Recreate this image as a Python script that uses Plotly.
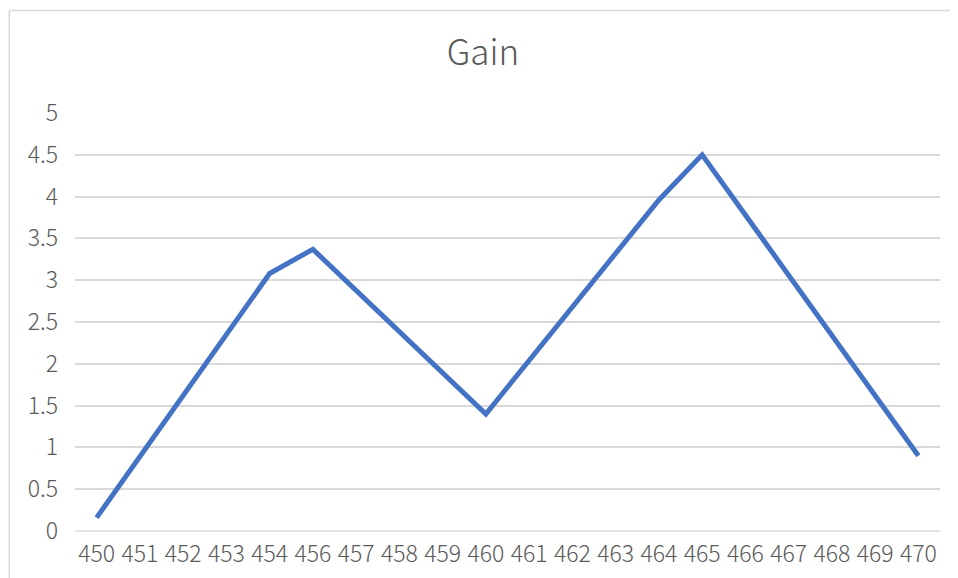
import plotly.graph_objects as go

categories = ["450", "451", "452", "453", "454", "456", "457", "458", "459", "460",
              "461", "462", "463", "464", "465", "466", "467", "468", "469", "470"]
gain = [0.16, 0.89, 1.62, 2.35, 3.08, 3.37, 2.88, 2.39, 1.90, 1.40,
        2.04, 2.68, 3.32, 3.96, 4.50, 3.78, 3.06, 2.34, 1.62, 0.90]
y_ticks = [0, 0.5, 1, 1.5, 2, 2.5, 3, 3.5, 4, 4.5, 5]
y_tick_text = ["0", "0.5", "1", "1.5", "2", "2.5", "3", "3.5", "4", "4.5", "5"]

FONT = "Noto Sans CJK SC, Noto Sans, sans-serif"
GREY = "#595959"
GRID = "#D9D9D9"

fig = go.Figure()
fig.add_trace(go.Scatter(
    x=categories, y=gain, mode="lines",
    line=dict(color="#4472C4", width=5),
    showlegend=False,
))

fig.update_layout(
    width=950, height=570,
    margin=dict(l=67, r=18, t=105, b=47, autoexpand=False),
    paper_bgcolor="white", plot_bgcolor="white",
    title=dict(text="Gain", x=0.5, xanchor="center", y=0.921, yanchor="middle",
               font=dict(family=FONT, size=35, color=GREY, weight=300)),
    xaxis=dict(type="category", showgrid=False, zeroline=False, showline=False,
               ticks="", ticklabelstandoff=7, automargin=False,
               tickfont=dict(family=FONT, size=23, color=GREY, weight=300),
               range=[-0.5, len(categories) - 0.5]),
    yaxis=dict(range=[0, 5], tickvals=y_ticks, ticktext=y_tick_text,
               showgrid=True, gridcolor=GRID, gridwidth=1.5, automargin=False,
               zeroline=False, showline=False, ticks="", ticklabelstandoff=16,
               tickfont=dict(family=FONT, size=23, color=GREY, weight=300)),
    shapes=[
        dict(type="line", xref="paper", yref="paper", x0=-0.076, x1=1.03, y0=1.245, y1=1.245,
             line=dict(color=GRID, width=1.5)),
        dict(type="line", xref="paper", yref="paper", x0=-0.076, x1=-0.076, y0=1.245, y1=-0.12,
             line=dict(color=GRID, width=1.5)),
        dict(type="line", xref="paper", yref="paper", x0=0, x1=1, y0=0, y1=0,
             line=dict(color=GRID, width=1.5), layer="below"),
    ],
)

fig.write_html("out.html")
